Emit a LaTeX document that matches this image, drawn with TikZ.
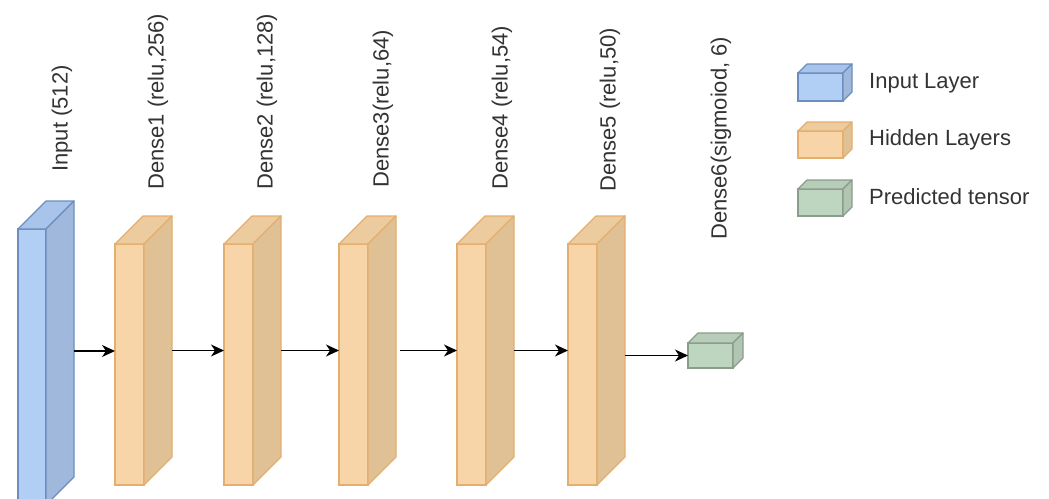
\documentclass[tikz,border=0pt]{standalone}
\usepackage{fontspec}
\setmainfont{Liberation Sans}
\usetikzlibrary{arrows.meta,calc,positioning}

\definecolor{blueFront}{HTML}{B1CEF4}
\definecolor{blueTop}{HTML}{A9C4EB}
\definecolor{blueSide}{HTML}{A0B8DC}
\definecolor{blueLine}{HTML}{6C8EBF}
\definecolor{orangeFront}{HTML}{F8D5A8}
\definecolor{orangeTop}{HTML}{ECCB9E}
\definecolor{orangeSide}{HTML}{E0C196}
\definecolor{orangeLine}{HTML}{E4AE6E}
\definecolor{greenFront}{HTML}{BED5C0}
\definecolor{greenTop}{HTML}{B7CDB9}
\definecolor{greenSide}{HTML}{B0C6B2}
\definecolor{greenLine}{HTML}{8A9C8A}

% name, x, y (front top left), width, height, depth, colour set
\newcommand{\cuboid}[7]{%
  \node[front, fill=#7Front, draw=#7Line, minimum width=#4pt, minimum height=#5pt] (#1) at (#2,#3) {};
  \filldraw[face, fill=#7Top, draw=#7Line] (#1.north west) -- ++(#6,-#6) -- ++(#4,0) -- (#1.north east) -- cycle;
  \filldraw[face, fill=#7Side, draw=#7Line] (#1.north east) -- ++(#6,-#6) -- ++(0,#5) -- (#1.south east) -- cycle;
  \coordinate (#1-out) at ($(#1.east)+(#6,-#6/2)$);
}

\begin{document}
\begin{tikzpicture}[
    x=1pt, y=-1pt,
    front/.style={rectangle, anchor=north west, inner sep=0pt, outer sep=0pt, line width=1.2pt},
    face/.style={line width=1.2pt, line join=round},
    lbl/.style={rotate=90, anchor=west, inner sep=0pt, font=\fontsize{22}{24}\selectfont, text=black!80},
    legend/.style={anchor=west, inner sep=0pt, font=\fontsize{22}{24}\selectfont, text=black!80},
    conn/.style={-{Stealth[length=13pt,width=12pt,inset=4pt]}, line width=1.4pt, black}
]
\useasboundingbox (0,0) rectangle (1049,498);

% Layers
\cuboid{in}{18}{229}{28}{276}{28}{blue}
\cuboid{dOne}{115}{244}{29}{241}{28}{orange}
\cuboid{dTwo}{224}{244}{29}{241}{28}{orange}
\cuboid{dThree}{339}{244}{29}{241}{28}{orange}
\cuboid{dFour}{457}{244}{29}{241}{28}{orange}
\cuboid{dFive}{568}{244}{29}{241}{28}{orange}
\cuboid{out}{688}{343}{45}{25}{10}{green}

% Layer names
\node[lbl] (lIn) at (62,172) {Input (512)};
\node[lbl] (lOne) at (158,190) {Dense1 (relu,256)};
\node[lbl] (lTwo) at (267,190) {Dense2 (relu,128)};
\node[lbl] (lThree) at (383,188) {Dense3(relu,64)};
\node[lbl] (lFour) at (502,190) {Dense4 (relu,54)};
\node[lbl] (lFive) at (610,192) {Dense5 (relu,50)};
\node[lbl] (lSix) at (721,240) {Dense6(sigmoiod, 6)};

% Connections
\draw[conn] ([yshift=2pt]in-out) -- ([yshift=2pt]in-out -| dOne.west);
\draw[conn] (dOne-out) -- (dOne-out -| dTwo.west);
\draw[conn] (dTwo-out) -- (dTwo-out -| dThree.west);
\draw[conn] ([xshift=4pt]dThree-out) -- (dThree-out -| dFour.west);
\draw[conn] (dFour-out) -- (dFour-out -| dFive.west);
\draw[conn] (dFive-out |- out.west) -- (out.west);

% Legend
\cuboid{kIn}{798}{73}{45}{28}{9}{blue}
\cuboid{kHid}{798}{131}{45}{27}{9}{orange}
\cuboid{kOut}{798}{189}{45}{27}{9}{green}
\node[legend] (tIn) at (869,83) {Input Layer};
\node[legend] (tHid) at (869,140) {Hidden Layers};
\node[legend] (tOut) at (869,197) {Predicted tensor};

\end{tikzpicture}
\end{document}
